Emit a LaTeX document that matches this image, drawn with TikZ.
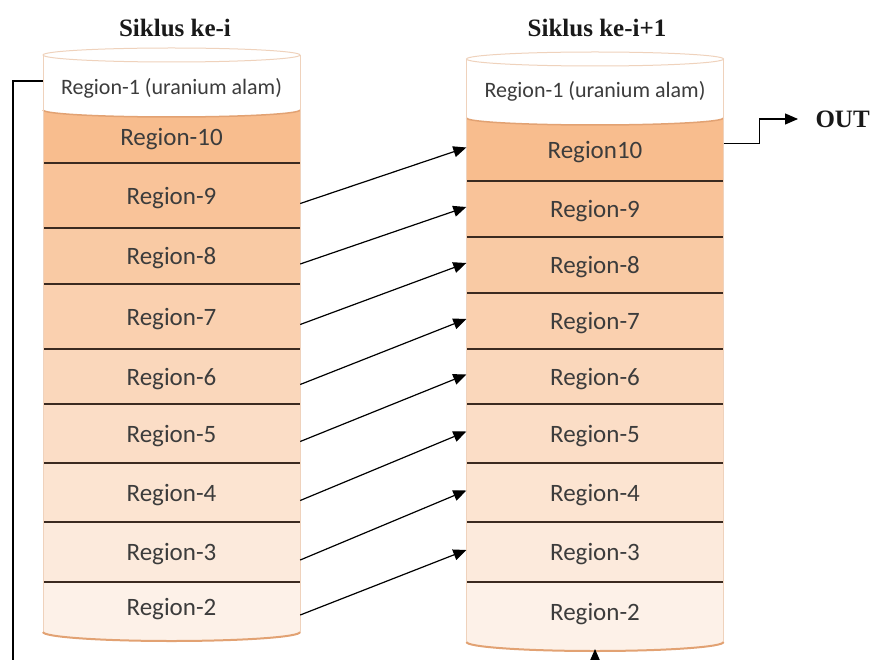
\documentclass[tikz,border=0pt]{standalone}
\usepackage{fontspec}
\setmainfont{Carlito}
\newfontfamily\titlefont{Liberation Serif}
\usetikzlibrary{arrows.meta}
\definecolor{regA}{HTML}{F8BD8E}
\definecolor{regB}{HTML}{FDF1E8}
\definecolor{rimc}{HTML}{E2A273}
\definecolor{edgec}{HTML}{EFD2BC}
\definecolor{txtc}{HTML}{3C3C3C}
\definecolor{sepc}{HTML}{3B2A20}

\begin{document}
\begin{tikzpicture}[x=1pt,y=1pt,
	row/.style={rectangle, minimum width=257pt, inner sep=0pt, text depth=0pt,
		text=txtc, font=\fontsize{25}{30}\selectfont},
	toprow/.style={row, font=\fontsize{22}{26}\selectfont},
	title/.style={font=\titlefont\bfseries\fontsize{25}{30}\selectfont, text=black!90},
	arr/.style={-{Triangle[length=13pt,width=11pt]}, line width=1.2pt},
	sep/.style={line width=1.5pt, color=sepc}]
\useasboundingbox (0,0) rectangle (874,-660);
%Zeilen links
\foreach \n/\t/\b in {10/110/163,9/163/228,8/228/284,7/284/349,6/349/404,5/404/463,4/463/522,3/522/582,2/582/632}{
	\pgfmathtruncatemacro\p{100*(10-\n)/8}
	\node[row, fill=regB!\p!regA, minimum height={(\b-\t)*1pt}] (L\n) at (171.5,{-(\t+\b)/2}) {Region-\n};
}
%Zeilen rechts
\foreach \n/\t/\b/\s in {10/118/181/Region10,9/181/237/Region-9,8/237/293/Region-8,7/293/349/Region-7,6/349/404/Region-6,5/404/463/Region-5,4/463/522/Region-4,3/522/582/Region-3,2/582/642/Region-2}{
	\pgfmathtruncatemacro\p{100*(10-\n)/8}
	\node[row, fill=regB!\p!regA, minimum height={(\b-\t)*1pt}] (R\n) at (595,{-(\t+\b)/2}) {\s};
}
%Trennlinien
\foreach \n in {9,...,2}{
	\draw[sep] (L\n.north west) -- (L\n.north east);
	\draw[sep] (R\n.north west) -- (R\n.north east);
}
%Zylinder: Deckel, Region-1, Boden
\foreach \cx/\yt/\yw/\yb in {171.5/55/110/632, 595/59/118/642}{
	\fill[white] (\cx-128.5,-\yt) -- (\cx-128.5,-\yw)
		arc[start angle=180, end angle=360, x radius=128.5, y radius=7] -- (\cx+128.5,-\yt) -- cycle;
	\draw[rimc, line width=1.5pt] (\cx-128.5,-\yw)
		arc[start angle=180, end angle=360, x radius=128.5, y radius=7];
	\draw[edgec, fill=white, line width=1pt] (\cx,-\yt) ellipse[x radius=128.5, y radius=7];
	\draw[edgec, line width=1pt] (\cx-128.5,-\yt) -- (\cx-128.5,-\yb);
	\draw[edgec, line width=1pt] (\cx+128.5,-\yt) -- (\cx+128.5,-\yb);
	\fill[regB] (\cx-128.5,-\yb)
		arc[start angle=180, end angle=360, x radius=128.5, y radius=9] -- cycle;
	\draw[rimc, line width=2pt] (\cx-128.5,-\yb)
		arc[start angle=180, end angle=360, x radius=128.5, y radius=9];
}
\node[toprow] (L1) at (171.5,-86) {Region-1 (uranium alam)};
\node[toprow] (R1) at (595,-89) {Region-1 (uranium alam)};
%Titel
\node[title] (tl) at (175,-28) {Siklus ke-i};
\node[title] (tr) at (597,-28) {Siklus ke-i+1};
\node[title, anchor=west] (out) at (812,-119) {OUT};
%Pfeile
\foreach \a/\b in {9/10,8/9,7/8,6/7,5/6,4/5,3/4,2/3}
	\draw[arr] ([yshift=-8pt]L\a.east) -- ([yshift=2pt]R\b.west);
\draw[arr] ([yshift=6pt]R10.east) -- ++(36,0) |- ([xshift=-14pt]out.west);
\coordinate (Rbase) at (595,-649);
\coordinate (loop) at (13,-675);
\draw[arr] ([yshift=5pt]L1.west) -| (loop) -| (Rbase);
\end{tikzpicture}
\end{document}
